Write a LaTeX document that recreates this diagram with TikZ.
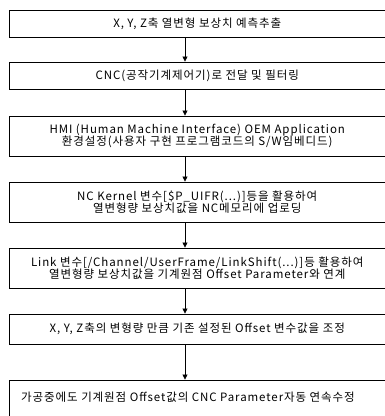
\documentclass[tikz,border=0pt]{standalone}
\usepackage{fontspec}
\setmainfont{Noto Sans CJK KR}[LetterSpace=8]
\usetikzlibrary{arrows.meta}
\newcommand\tightlines{\lineskiplimit=-6pt\relax\lineskip=0pt\relax}
\begin{document}
\begin{tikzpicture}[x=1pt,y=-1pt,
  txt/.style={font={\fontsize{11.5}{12}\selectfont\tightlines}},
  stepbox/.style={txt, draw=black, line width=0.9pt, minimum width=376.5pt, inner sep=0pt, align=center},
  flow/.style={draw=black, line width=0.8pt, -{Triangle[width=5pt,length=5pt]}}]
\useasboundingbox (0,0) rectangle (385,416);
\coordinate (ax) at (185,0);
\node[stepbox, minimum height=26.6pt] (b1) at (197.25,24) {X, Y, Z축 열변형 보상치 예측추출};
\node[stepbox, minimum height=27pt] (b2) at (197.25,75.5) {CNC(공작기계제어기)로 전달 및 필터링};
\node[stepbox, minimum height=40pt] (b3) at (197.25,136) {HMI (Human Machine Interface) OEM Application\\환경설정(사용자 구현 프로그램코드의 S/W임베디드)};
\node[stepbox, minimum height=40pt] (b4) at (197.25,202) {NC Kernel 변수[\$P\_UIFR(...)]등을 활용하여\\열변형량 보상치값을 NC메모리에 업로딩};
\node[stepbox, minimum height=40pt] (b5) at (197.25,268) {Link 변수[/Channel/UserFrame/LinkShift(...)]등 활용하여\\열변형량 보상치값을 기계원점 Offset Parameter와 연계};
\node[stepbox, minimum height=30pt] (b6) at (197.25,329) {X, Y, Z축의 변형량 만큼 기존 설정된 Offset 변수값을 조정};
\node[stepbox, minimum height=40pt] (b7) at (197.25,400) {};
\node[txt] (t7) at (188,397) {가공중에도 기계원점 Offset값의 CNC Parameter자동 연속수정};
\draw[flow] (b1.south -| ax) -- (b2.north -| ax);
\draw[flow] (b2.south -| ax) -- (b3.north -| ax);
\draw[flow] (b3.south -| ax) -- (b4.north -| ax);
\draw[flow] (b4.south -| ax) -- (b5.north -| ax);
\draw[flow] (b5.south -| ax) -- (b6.north -| ax);
\draw[flow] (b6.south -| ax) -- (b7.north -| ax);
\end{tikzpicture}
\end{document}
